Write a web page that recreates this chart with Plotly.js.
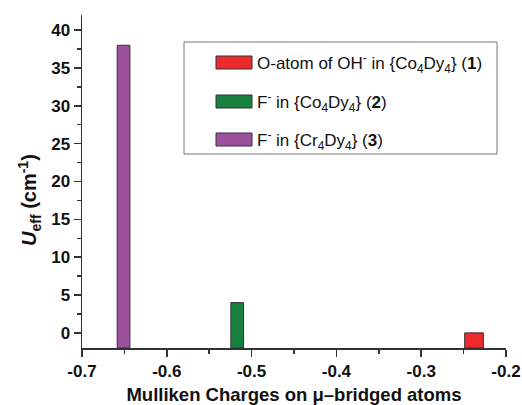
<!DOCTYPE html>
<html>
<head>
<meta charset="utf-8">
<script src="https://cdn.plot.ly/plotly-3.0.1.min.js"></script>
<style>html,body{margin:0;padding:0;background:#fff;}#chart{width:522px;height:405px;}</style>
</head>
<body>
<div id="chart"></div>
<script>
// Data
var charges = [-0.2377, -0.517, -0.651];
var ueff = [0, 4, 38];
var seriesNames = [
  'O-atom of OH<sup>-</sup> in {Co<sub>4</sub>Dy<sub>4</sub>} (<b>1</b>)',
  'F<sup>-</sup> in {Co<sub>4</sub>Dy<sub>4</sub>} (<b>2</b>)',
  'F<sup>-</sup> in {Cr<sub>4</sub>Dy<sub>4</sub>} (<b>3</b>)'
];
var xTickVals = [-0.7, -0.6, -0.5, -0.4, -0.3, -0.2];
var yTickVals = [0, 5, 10, 15, 20, 25, 30, 35, 40];
var xTitle = 'Mulliken Charges on μ–bridged atoms';
var yTitle = '<i>U</i><sub>eff</sub> (cm<sup>-1</sup>)';

// Styles
var colors = ['#ec2a2c', '#17803e', '#9b519e'];
var barWidths = [0.022, 0.015, 0.015];
var yMin = -2, yMax = 42;
var W = 522, H = 405;
var M = {l: 82, r: 16, t: 15, b: 57};
var font = 'Arial, Liberation Sans, sans-serif';

function px(x) { return (x - M.l) / (W - M.l - M.r); }
function py(y) { return (H - M.b - y) / (H - M.t - M.b); }

var traces = charges.map(function (c, i) {
  return {
    type: 'bar',
    x: [c],
    y: [ueff[i] - yMin],
    base: [yMin],
    width: [barWidths[i]],
    marker: {color: colors[i], line: {color: '#333', width: 1}},
    name: seriesNames[i],
    showlegend: false,
    hoverinfo: 'skip'
  };
});

// Manual legend
var shapes = [{
  type: 'rect', xref: 'paper', yref: 'paper',
  x0: px(184), x1: px(497), y0: py(154), y1: py(42),
  line: {color: '#777', width: 1}, fillcolor: 'rgba(0,0,0,0)'
}];
var annotations = [];
var rowY = [62.5, 101.5, 139.5];
seriesNames.forEach(function (n, i) {
  shapes.push({
    type: 'rect', xref: 'paper', yref: 'paper',
    x0: px(216), x1: px(252), y0: py(rowY[i] + 6.5), y1: py(rowY[i] - 6.5),
    fillcolor: colors[i], line: {color: '#333', width: 1}
  });
  annotations.push({
    xref: 'paper', yref: 'paper', x: px(255), y: py(rowY[i] + 1),
    xanchor: 'left', yanchor: 'middle', showarrow: false,
    text: n, font: {family: font, size: 17, color: '#111'}
  });
});
// y-axis title
annotations.push({
  xref: 'paper', yref: 'paper', x: px(29), y: py(200),
  xanchor: 'center', yanchor: 'middle', showarrow: false, textangle: -90,
  text: yTitle, font: {family: font, size: 20, color: '#111', weight: 700}
});

var tickFont = {family: font, size: 17, color: '#111', weight: 700};

var layout = {
  width: W, height: H,
  margin: M,
  paper_bgcolor: '#fff', plot_bgcolor: '#fff',
  showlegend: false,
  bargap: 0,
  xaxis: {
    range: [-0.7, -0.2],
    tickvals: xTickVals,
    ticktext: xTickVals.map(function (v) { return v.toFixed(1); }),
    ticks: 'outside', ticklen: 7, tickwidth: 1.5, tickcolor: '#333',
    minor: {dtick: 0.05, tick0: -0.7, ticks: 'outside', ticklen: 4, tickwidth: 1.5, tickcolor: '#333', showgrid: false},
    showline: true, linecolor: '#333', linewidth: 1.5,
    showgrid: false, zeroline: false,
    tickfont: tickFont,
    title: {text: xTitle, font: {family: font, size: 18.5, color: '#111', weight: 700}, standoff: 8}
  },
  yaxis: {
    range: [yMin, yMax],
    tickvals: yTickVals,
    ticktext: yTickVals.map(function (v) { return String(v); }),
    ticks: 'outside', ticklen: 7, tickwidth: 1.5, tickcolor: '#333',
    minor: {dtick: 2.5, tick0: 0, ticks: 'outside', ticklen: 4, tickwidth: 1.5, tickcolor: '#333', showgrid: false},
    showline: true, linecolor: '#333', linewidth: 1.5,
    showgrid: false, zeroline: false,
    tickfont: tickFont
  },
  shapes: shapes,
  annotations: annotations
};

Plotly.newPlot('chart', traces, layout, {displayModeBar: false, staticPlot: true});
</script>
</body>
</html>
